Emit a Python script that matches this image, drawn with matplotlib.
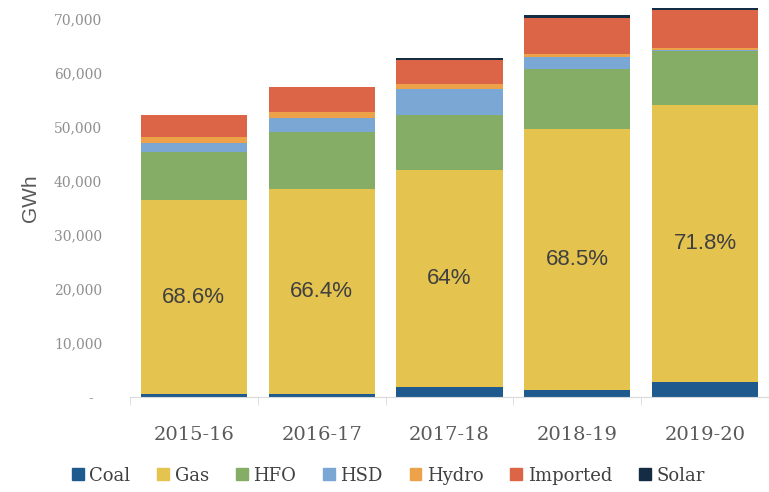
import numpy as np
import matplotlib.pyplot as plt
from matplotlib.patches import Patch

# net generation by fuel, GWh
years = ['2015-16', '2016-17', '2017-18', '2018-19', '2019-20']
coal = [550, 500, 1800, 1300, 2800]
gas = [35800, 38030, 40110, 48315, 51280]
hfo = [8880, 10470, 10310, 11000, 9920]
hsd = [1790, 2660, 4710, 2230, 150]
hydro = [1020, 1020, 1020, 600, 400]
imported = [4150, 4640, 4430, 6700, 7000]
solar = [0, 0, 300, 400, 350]
gas_share = ['68.6%', '66.4%', '64%', '68.5%', '71.8%']

series = [
    ('Coal', coal, '#1f5a8e'),
    ('Gas', gas, '#e4c34f'),
    ('HFO', hfo, '#86ad66'),
    ('HSD', hsd, '#7ba7d4'),
    ('Hydro', hydro, '#eda24a'),
    ('Imported', imported, '#dc6447'),
    ('Solar', solar, '#152c45'),
]

fig = plt.figure(figsize=(7.69, 4.92), dpi=100)
ax = fig.add_axes([0.169, 0.193, 0.831, 0.807])

x = np.arange(len(years))
bottom = np.zeros(len(years))
for name, vals, color in series:
    vals = np.array(vals, dtype=float)
    ax.bar(x, vals, 0.83, bottom=bottom, color=color, label=name, linewidth=0)
    if name == 'Gas':
        for xi, b, v, txt in zip(x, bottom, vals, gas_share):
            ax.text(xi, b + v / 2, txt, ha='center', va='center',
                    fontsize=16, color='#404040', family='Liberation Sans')
    bottom += vals

ax.set_xlim(-0.5, len(years) - 0.5)
ax.set_ylim(0, 73400)

yt = np.arange(0, 70001, 10000)
ax.set_yticks(yt)
ax.set_yticklabels(['-  ' if v == 0 else f'{v:,}' for v in yt],
                   fontsize=10, color='#8f8f8f', family='DejaVu Serif')
ax.tick_params(axis='y', length=0, pad=20)

ax.set_xticks(x)
ax.set_xticklabels(years, fontsize=14, color='#595959', family='DejaVu Serif')
ax.set_xticks(np.arange(-0.5, len(years)), minor=True)
ax.tick_params(axis='x', which='major', length=0, pad=21)
ax.tick_params(axis='x', which='minor', length=6, color='#d9d9d9')

for side in ['top', 'right', 'left']:
    ax.spines[side].set_visible(False)
ax.spines['bottom'].set_color('#d9d9d9')

ax.set_ylabel('GWh', fontsize=15, color='#595959', family='Liberation Sans', labelpad=10)

handles = [Patch(color=c, label=n) for n, _, c in series]
fig.legend(handles=handles, loc='lower center', bbox_to_anchor=(0.505, -0.018), ncol=7,
           frameon=False, handlelength=0.65, handleheight=0.65, handletextpad=0.3,
           columnspacing=1.5, prop={'family': 'DejaVu Serif', 'size': 13},
           labelcolor='#404040')

fig.savefig('out.png', dpi=100)
